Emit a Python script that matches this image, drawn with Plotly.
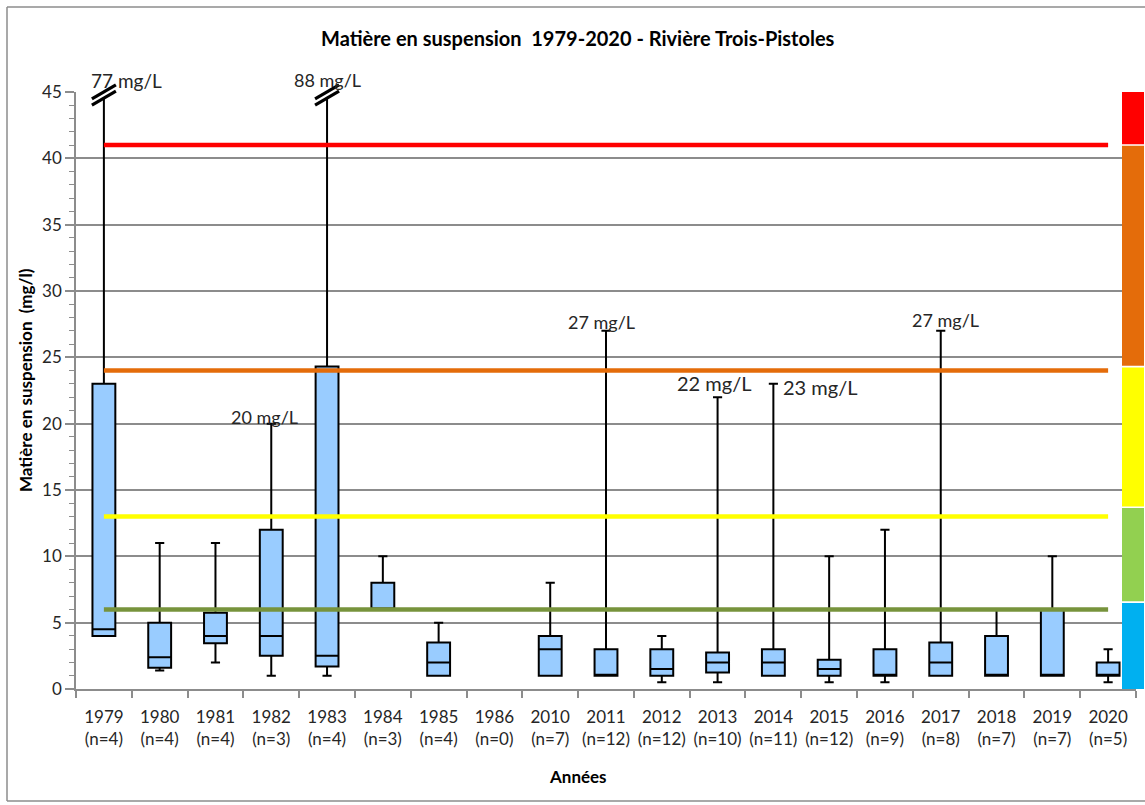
import plotly.graph_objects as go

# ---------------- data ----------------
years = ["1979", "1980", "1981", "1982", "1983", "1984", "1985", "1986", "2010", "2011",
         "2012", "2013", "2014", "2015", "2016", "2017", "2018", "2019", "2020"]
n_obs = [4, 4, 4, 3, 4, 3, 4, 0, 7, 12, 12, 10, 11, 12, 9, 8, 7, 7, 5]
v_min = [4.0, 1.4, 2.0, 1.0, 1.0, 6.0, 1.0, None, 1.0, 1.0, 0.5, 0.5, 1.0, 0.5, 0.5, 1.0, 1.0, 1.0, 0.5]
v_q1 = [4.0, 1.6, 3.45, 2.5, 1.7, 6.0, 1.0, None, 1.0, 1.0, 1.0, 1.25, 1.0, 1.0, 1.0, 1.0, 1.0, 1.0, 1.0]
v_med = [4.5, 2.4, 4.0, 4.0, 2.5, 6.0, 2.0, None, 3.0, 1.0, 1.5, 2.0, 2.0, 1.5, 1.0, 2.0, 1.0, 1.0, 1.0]
v_q3 = [23.0, 5.0, 5.75, 12.0, 24.3, 8.0, 3.5, None, 4.0, 3.0, 3.0, 2.75, 3.0, 2.2, 3.0, 3.5, 4.0, 6.0, 2.0]
v_max = [77.0, 11.0, 11.0, 20.0, 88.0, 10.0, 5.0, None, 8.0, 27.0, 4.0, 22.0, 23.0, 10.0, 12.0, 27.0, 6.0, 10.0, 3.0]

# criteria thresholds (mg/l)
thr_values = [41, 24, 13, 6]
thr_colors = ["#FF0000", "#E46C0A", "#FFFF00", "#77933C"]

# colour scale bar on the right (class limits)
band_limits = [45.4, 41.0, 24.3, 13.7, 6.55, -0.25]
band_colors = ["#FF0000", "#E46C0A", "#FFFF00", "#92D050", "#00B0F0"]

# annotated maxima
labels_idx = [0, 4, 3, 9, 11, 12, 15]
labels_txt = ["77 mg/L", "88 mg/L", "20 mg/L", "27 mg/L", "22 mg/L", "23 mg/L", "27 mg/L"]
broken_idx = [0, 4]  # whiskers exceeding the axis

title = "Matière en suspension  1979-2020 - Rivière Trois-Pistoles"
ytitle = "Matière en suspension  (mg/l)"
xtitle = "Années"

cats = [f"{y}<br>(n={n})" for y, n in zip(years, n_obs)]

# ---------------- layout geometry (pixels) ----------------
W, H = 1145, 805
L, R, T, B = 76, 1136, 92, 689
YMAX = 45.0
pw, ph = R - L, B - T
catw = pw / len(cats)


def px2paper_x(p):
    return (p - L) / pw


def px2paper_y(p):
    return (B - p) / ph


FONT = "Lato"
TXT = "#262626"
GRID = "#8C8C8C"

fig = go.Figure()

for i, c in enumerate(cats):
    if v_med[i] is None:
        continue
    fig.add_trace(go.Box(
        x=[c], q1=[v_q1[i]], median=[v_med[i]], q3=[v_q3[i]],
        lowerfence=[v_min[i]], upperfence=[v_max[i]],
        fillcolor="#99CCFF", line=dict(color="black", width=2),
        width=0.41, whiskerwidth=0.4, boxpoints=False, showlegend=False,
        hoverinfo="skip",
    ))

for v, col in zip(thr_values, thr_colors):
    fig.add_trace(go.Scatter(
        x=[cats[0], cats[-1]], y=[v, v], mode="lines",
        line=dict(color=col, width=4.5), showlegend=False, hoverinfo="skip",
    ))

shapes = []
# outer chart border: left, top and bottom edges (right edge is outside the picture)
bx0, bx1, by0, by1 = px2paper_x(7), px2paper_x(1160), px2paper_y(801), px2paper_y(7)
for (x0, y0, x1, y1) in [(bx0, by0, bx0, by1), (bx0, by1, bx1, by1), (bx0, by0, bx1, by0)]:
    shapes.append(dict(type="line", xref="paper", yref="paper", x0=x0, y0=y0, x1=x1, y1=y1,
                       line=dict(color="#8C8C8C", width=1.5), layer="below"))
# colour bands
for k, col in enumerate(band_colors):
    top = band_limits[k]
    bot = band_limits[k + 1]
    shapes.append(dict(type="rect", xref="paper", yref="y",
                       x0=px2paper_x(1122), x1=px2paper_x(1144),
                       y0=bot + (0.06 if k < len(band_colors) - 1 else 0), y1=top - 0.06,
                       line=dict(width=0), fillcolor=col, layer="above"))
# break marks on truncated whiskers
for idx in broken_idx:
    cy = 95.0
    dxp, dyp = 12.0, 7.0
    for off, colr, wid in [(0, "white", 5), (-3.2, "black", 3.2), (3.2, "black", 3.2)]:
        shapes.append(dict(type="line", xref="x", yref="paper",
                           x0=idx - dxp / catw, x1=idx + dxp / catw,
                           y0=px2paper_y(cy + dyp + off), y1=px2paper_y(cy - dyp + off),
                           line=dict(color=colr, width=wid), layer="above"))

annotations = []
ann_cfg = {
    0: dict(xshift=23, yshift=12, xanchor="center", size=19),
    4: dict(xshift=0, yshift=12, xanchor="center", size=18),
    3: dict(xshift=-7, yshift=7, xanchor="center", size=18),
    9: dict(xshift=-5, yshift=9, xanchor="center", size=18),
    11: dict(xshift=-4, yshift=14, xanchor="center", size=20),
    12: dict(xshift=8, yshift=-3, xanchor="left", size=20),
    15: dict(xshift=5, yshift=11, xanchor="center", size=18),
}
for idx, txt in zip(labels_idx, labels_txt):
    cfg = ann_cfg[idx]
    yv = min(v_max[idx], YMAX)
    annotations.append(dict(x=cats[idx], y=yv, xref="x", yref="y", text=txt, showarrow=False,
                            xanchor=cfg["xanchor"], yanchor="middle",
                            xshift=cfg["xshift"], yshift=cfg["yshift"],
                            font=dict(family=FONT, size=cfg["size"], color=TXT)))

annotations.append(dict(x=px2paper_x(578), y=px2paper_y(38), xref="paper", yref="paper",
                        text=f"<b>{title}</b>", showarrow=False, xanchor="center", yanchor="middle",
                        font=dict(family=FONT, size=20, color="black")))
annotations.append(dict(x=px2paper_x(25), y=px2paper_y(380), xref="paper", yref="paper",
                        text=f"<b>{ytitle}</b>", showarrow=False, textangle=-90,
                        xanchor="center", yanchor="middle",
                        font=dict(family=FONT, size=17, color="black")))
annotations.append(dict(x=px2paper_x(578), y=px2paper_y(776), xref="paper", yref="paper",
                        text=f"<b>{xtitle}</b>", showarrow=False, xanchor="center", yanchor="middle",
                        font=dict(family=FONT, size=17, color="black")))

fig.update_layout(
    width=W, height=H,
    margin=dict(l=L, r=W - R, t=T, b=H - B, pad=0),
    paper_bgcolor="white", plot_bgcolor="white",
    showlegend=False,
    boxmode="overlay",
    shapes=shapes, annotations=annotations,
    font=dict(family=FONT, color=TXT),
)
fig.update_xaxes(
    type="category", categoryorder="array", categoryarray=cats,
    range=[-0.5, len(cats) - 0.5],
    showline=True, linecolor=GRID, linewidth=1.5,
    ticks="outside", tickson="boundaries", ticklen=7, tickcolor=GRID, tickwidth=1.5,
    tickangle=0, automargin=False, ticklabelstandoff=12,
    showgrid=False, tickfont=dict(family=FONT, size=17, color=TXT),
)
fig.update_yaxes(
    range=[0, YMAX], dtick=5, tick0=0, automargin=False,
    showline=True, linecolor=GRID, linewidth=1.5,
    ticks="outside", ticklen=9, tickcolor=GRID, tickwidth=1.5,
    showgrid=True, gridcolor=GRID, gridwidth=1.5, zeroline=False,
    minor=dict(dtick=1, ticks="outside", ticklen=5, tickcolor=GRID, tickwidth=1.2, showgrid=False),
    tickfont=dict(family=FONT, size=17, color=TXT),
)

fig.write_html("out.html", config={"displayModeBar": False},
               post_script="document.body.style.margin='0px';document.body.style.overflow='hidden';")
